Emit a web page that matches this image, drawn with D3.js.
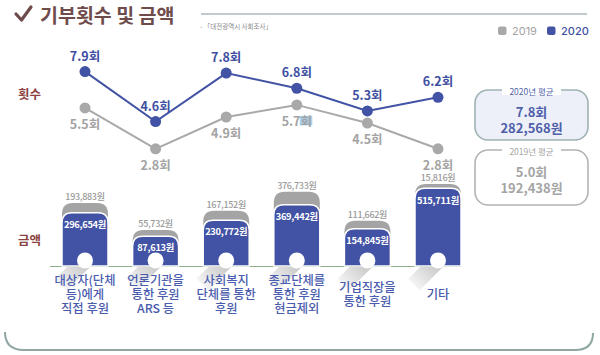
<!DOCTYPE html>
<html><head><meta charset="utf-8">
<script src="https://cdn.jsdelivr.net/npm/d3@7"></script>
<style>
html,body{margin:0;padding:0;background:#fff;}
svg{display:block;font-family:"Noto Sans CJK KR","Noto Sans",sans-serif;}
</style></head>
<body>
<svg id="c" width="600" height="355"></svg>
<script>
// ---- data ----
const categories = ["c1","c2","c3","c4","c5","c6"];
const categoryLabels = [
  ["대상자(단체","등)에게","직접 후원"],
  ["언론기관을","통한 후원","ARS 등"],
  ["사회복지","단체를 통한","후원"],
  ["종교단체를","통한 후원","현금제외"],
  ["기업직장을","통한 후원"],
  ["기타"]
];
const count2019 = [5.5, 2.8, 4.9, 5.7, 4.5, 2.8];
const count2020 = [7.9, 4.6, 7.8, 6.8, 5.3, 6.2];
const amount2019 = [193883, 55732, 167152, 376733, 111662, 15816];
const amount2020 = [296654, 87613, 230772, 369442, 154845, 515711];
const seriesNames = ["2019", "2020"];
const avgCount = [5.0, 7.8];      // 2019, 2020
const avgAmount = [192438, 282568];

// ---- styles ----
const BLUE = "#4253a5", BLUE_T = "#3e4fa2", GREY = "#a9a9a9", GREY_T = "#a3a3a3";
const BROWN = "#6e4c4b", RED_BROWN = "#8b4242";
const svg = d3.select("#c");
const fmt = d3.format(",");

// title
svg.append("path").attr("d","M16,14 L21.5,20 L31,7").attr("fill","none")
  .attr("stroke",BROWN).attr("stroke-width",3.2).attr("stroke-linecap","round").attr("stroke-linejoin","round");
svg.append("text").attr("x",40).attr("y",23)
  .attr("font-size",19.5).attr("font-weight",700).attr("fill",BROWN).text("기부횟수 및 금액");
svg.append("line").attr("x1",201).attr("x2",587).attr("y1",14).attr("y2",14)
  .attr("stroke","#aab9c1").attr("stroke-width",1.3);
svg.append("text").attr("x",200).attr("y",25.5).attr("dominant-baseline","central")
  .attr("font-size",6.5).attr("fill","#8a8a8a").text("- 「대전광역시 사회조사」");

// legend
const legend = svg.append("g");
[[498, GREY, GREY_T],[547, BLUE, BLUE_T]].forEach((d,i)=>{
  legend.append("rect").attr("x",d[0]).attr("y",26.5).attr("width",8.5).attr("height",8.5).attr("rx",2.2).attr("fill",d[1]);
  legend.append("text").attr("x",d[0]+14).attr("y",31).attr("dominant-baseline","central")
    .attr("font-size",11).attr("fill",d[2]).attr("font-family","Inter, 'Noto Sans', sans-serif").attr("font-weight",i?500:400).text(seriesNames[i]);
});

// side labels
svg.append("text").attr("x",18).attr("y",93).attr("dominant-baseline","central")
  .attr("font-size",12.5).attr("font-weight",700).attr("fill",RED_BROWN).text("횟수");
svg.append("text").attr("x",18).attr("y",239).attr("dominant-baseline","central")
  .attr("font-size",12.5).attr("font-weight",700).attr("fill",RED_BROWN).text("금액");

// scales
const x = d3.scalePoint().domain(categories).range([85, 438]);
const y = d3.scaleLinear().domain([2.8, 7.9]).range([148.8, 71.6]);
const baseline = 266;
const yb = d3.scaleLinear().domain([0, 515711]).range([baseline-20, baseline-77.7]);
const cap = d3.scaleSqrt().domain([0, 376733]).range([2, 13]);
const bw = 46;

// lines
const line = d3.line().x((d,i)=>x(categories[i])).y(d=>y(d));
svg.append("path").attr("d",line(count2019)).attr("fill","none").attr("stroke",GREY).attr("stroke-width",2);
svg.append("path").attr("d",line(count2020)).attr("fill","none").attr("stroke",BLUE).attr("stroke-width",2);

// highlight artifact behind 5.7회's "회"
svg.append("rect").attr("x",x("c4")+3).attr("y",y(count2019[3])+11).attr("width",12.5).attr("height",9.5).attr("fill","#a9d0ea");

count2019.forEach((v,i)=>{
  svg.append("circle").attr("cx",x(categories[i])).attr("cy",y(v)).attr("r",5.5).attr("fill",GREY);
  svg.append("text").attr("x",x(categories[i])).attr("y",y(v)+15.5).attr("text-anchor","middle").attr("dominant-baseline","central")
    .attr("font-size",12.5).attr("font-weight",700).attr("fill",GREY_T).text(v.toFixed(1)+"회");
});
count2020.forEach((v,i)=>{
  svg.append("circle").attr("cx",x(categories[i])).attr("cy",y(v)).attr("r",5.5).attr("fill",BLUE);
  svg.append("text").attr("x",x(categories[i])).attr("y",y(v)-16.5).attr("text-anchor","middle").attr("dominant-baseline","central")
    .attr("font-size",12.5).attr("font-weight",700).attr("fill",BLUE_T).text(v.toFixed(1)+"회");
});

// shadow gradient
const defs = svg.append("defs");
const gr = defs.append("linearGradient").attr("id","sh").attr("x1","1").attr("y1","0").attr("x2","0").attr("y2","1");
gr.append("stop").attr("offset","0").attr("stop-color","#000").attr("stop-opacity",0.28);
gr.append("stop").attr("offset","1").attr("stop-color","#000").attr("stop-opacity",0);

function topRounded(x0,x1,yt,ybot,r){
  return `M${x0},${ybot}V${yt+r}Q${x0},${yt} ${x0+r},${yt}H${x1-r}Q${x1},${yt} ${x1},${yt+r}V${ybot}Z`;
}

// baseline
svg.append("line").attr("x1",50).attr("x2",461).attr("y1",baseline+0.5).attr("y2",baseline+0.5)
  .attr("stroke","#8fb08c").attr("stroke-width",1);

categories.forEach((c,i)=>{
  const cx = x(c), x0 = cx-bw/2, x1 = cx+bw/2;
  const top = yb(amount2020[i]);
  const gtop = top - cap(amount2019[i]);
  // shadow
  const cy = 260.5, r = 8, L = 24, s = Math.SQRT1_2;
  const p1 = [cx - r*s, cy - r*s], p2 = [cx + r*s, cy + r*s];
  svg.append("path").attr("d",`M${p1[0]},${p1[1]}L${p1[0]-L},${p1[1]+L}L${p2[0]-L},${p2[1]+L}L${p2[0]},${p2[1]}Z`)
    .attr("fill","url(#sh)");
  // grey cap
  svg.append("path").attr("d",topRounded(x0,x1,gtop,top+16,11)).attr("fill","#a4a4a4");
  // blue bar
  svg.append("path").attr("d",topRounded(x0,x1,top,baseline,10)).attr("fill",BLUE)
    .attr("stroke","#fff").attr("stroke-width",1.5);
  // circle
  svg.append("circle").attr("cx",cx).attr("cy",cy).attr("r",r).attr("fill","#fff");
  // labels
  svg.append("text").attr("x",cx).attr("y",top+11.3).attr("text-anchor","middle").attr("dominant-baseline","central")
    .attr("font-size",9.3).attr("font-weight",700).attr("letter-spacing",-0.3).attr("fill","#fff").text(fmt(amount2020[i])+"원");
  svg.append("text").attr("x",cx).attr("y",gtop-6.5).attr("text-anchor","middle").attr("dominant-baseline","central")
    .attr("font-size",9).attr("font-weight",500).attr("letter-spacing",-0.3).attr("fill","#9a9a9a").text(fmt(amount2019[i])+"원");
  // category labels
  const lines = categoryLabels[i];
  const y0 = 294 - (lines.length-1)*14/2;
  lines.forEach((t,j)=>{
    svg.append("text").attr("x",cx).attr("y",y0+j*14).attr("text-anchor","middle").attr("dominant-baseline","central")
      .attr("font-size",12.3).attr("font-weight",500).attr("fill","#4a5cae").text(t);
  });
});

// average boxes
function avgBox(yTop, h, fill, stroke, tcolor, title, i){
  const g = svg.append("g");
  g.append("rect").attr("x",475).attr("y",yTop).attr("width",113).attr("height",h).attr("rx",13)
    .attr("fill",fill).attr("stroke",stroke).attr("stroke-width",1.6);
  g.append("rect").attr("x",502).attr("y",yTop-5).attr("width",59).attr("height",10).attr("fill","#fff");
  g.append("text").attr("x",531.5).attr("y",yTop+0.5).attr("text-anchor","middle").attr("dominant-baseline","central")
    .attr("font-size",8.5).attr("fill",tcolor).text(title);
  g.append("text").attr("x",531.5).attr("y",yTop+21.5).attr("text-anchor","middle").attr("dominant-baseline","central")
    .attr("font-size",13).attr("font-weight",700).attr("fill",tcolor).text(avgCount[i].toFixed(1)+"회");
  g.append("text").attr("x",531.5).attr("y",yTop+37).attr("text-anchor","middle").attr("dominant-baseline","central")
    .attr("font-size",13).attr("font-weight",700).attr("fill",tcolor).text(fmt(avgAmount[i])+"원");
}
avgBox(90, 50, "#edf0f8", "#9fb2b2", "#4f5fa8", "2020년 평균", 1);
avgBox(150, 55, "#fff", "#b3b3b3", "#a5a5a5", "2019년 평균", 0);

// bottom frame
svg.append("path").attr("d","M5,332 Q5,350 24,350 L575,350 Q593,350 593,333")
  .attr("fill","none").attr("stroke","#8fa6a3").attr("stroke-width",2);
</script>
</body></html>
